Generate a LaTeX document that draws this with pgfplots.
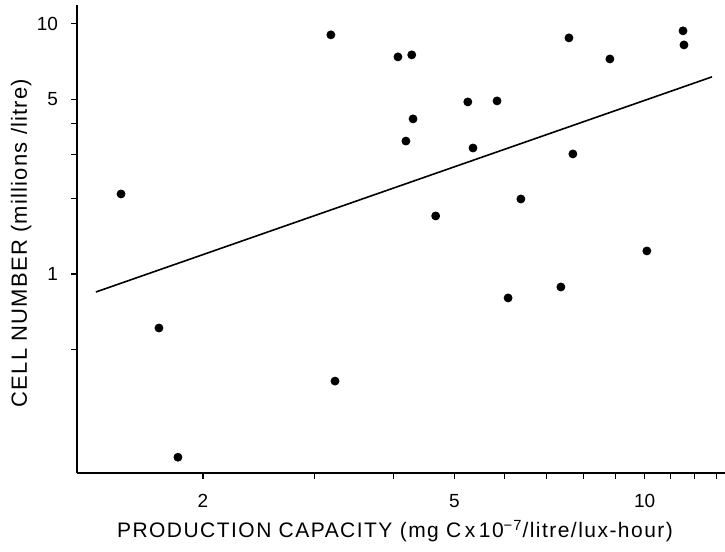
\documentclass[border=0pt]{standalone}
\usepackage{pgfplots}
\pgfplotsset{compat=1.18}
\usetikzlibrary{calc}
\usepackage{fontspec}
\setmainfont{Liberation Sans}
\newfontfamily\labelfont[LetterSpace=7]{Liberation Sans}
\newfontfamily\ylabelfont[LetterSpace=5.5]{Liberation Sans}
\begin{document}
\begin{tikzpicture}
\begin{axis}[
  scale only axis,
  width=324pt, height=234pt,
  xmode=log, ymode=log,
  xmin=1.264, xmax=13.4,
  ymin=0.16, ymax=11.9,
  axis x line*=bottom, axis y line*=left,
  axis line style={line width=0.75pt},
  xtick={2,3,4,5,6,7,8,9,10,11,12,13},
  xticklabels={2,,,5,,,,,10,,,},
  ytick={0.5,1,2,3,4,5,10},
  yticklabels={,1,,,,5,10},
  minor tick num=0,
  tick align=outside,
  major tick length=3pt,
  tick style={line width=0.6pt, black},
  /pgf/number format/assume math mode=true,
  tick label style={font=\fontsize{9.5}{11}\selectfont},
  xticklabel style={yshift=-4pt},
  yticklabel style={xshift=-3pt},
  xlabel={PRODUCTION CAPACITY (mg C\,x\,10\textsuperscript{−7}/litre/lux-hour)},
  xlabel style={font=\labelfont\fontsize{10.5}{12}\selectfont, at={(axis description cs:0.5,0)}, anchor=base, yshift=-32.5pt, xshift=-3pt},
  clip=false,
]
\addplot[only marks, mark=*, mark size=2pt, black] coordinates {
(1.484,2.089) (1.704,0.608) (1.826,0.185) (3.188,9.04) (3.236,0.373)
(4.07,7.38) (4.28,7.52) (4.19,3.40) (4.30,4.17) (4.67,1.706)
(5.25,4.875) (5.35,3.19) (5.84,4.92) (6.37,1.995) (6.08,0.802)
(7.37,0.887) (7.70,3.02) (8.81,7.24) (7.59,8.79) (10.08,1.236)
(11.50,9.38) (11.54,8.24)
};
\addplot[black, line width=0.8pt] coordinates {(1.354,0.847) (12.78,6.14)};
\node[rotate=90, anchor=base, inner sep=0pt, font=\ylabelfont\fontsize{11}{13}\selectfont]
  at ($(rel axis cs:0,0.5)+(-25pt,-2pt)$) {CELL NUMBER (millions /litre)};
\end{axis}
\path (current axis.south west) +(-38.5pt,-39.5pt) coordinate (bbA);
\path (current axis.south west) +(324pt,236.5pt) coordinate (bbB);
\pgfresetboundingbox
\useasboundingbox (bbA) rectangle (bbB);
\end{tikzpicture}
\end{document}
